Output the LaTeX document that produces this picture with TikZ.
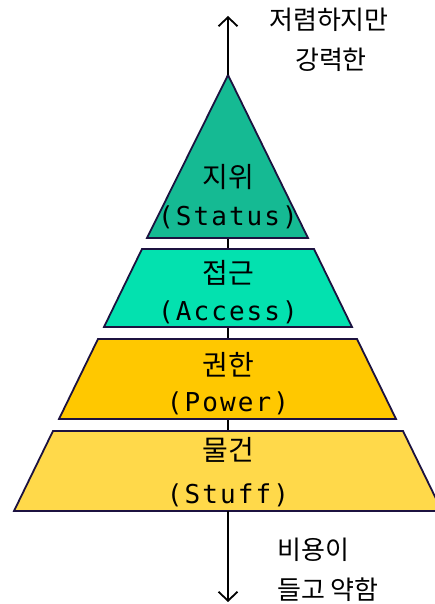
\documentclass[tikz,border=0pt]{standalone}
\usepackage{fontspec}
\setmainfont{Noto Sans CJK KR}
\newfontfamily\kr{Noto Sans CJK KR}
\newfontfamily\mono[LetterSpace=8]{DejaVu Sans Mono}
\usetikzlibrary{arrows.meta}
\definecolor{outl}{HTML}{1C1240}
\definecolor{cstatus}{HTML}{15BA93}
\definecolor{caccess}{HTML}{03E1AF}
\definecolor{cpower}{HTML}{FFC800}
\definecolor{cstuff}{HTML}{FFD94A}
\tikzset{
  layer/.style={draw=outl, line width=1.8pt, line join=miter},
  axis/.style={draw=black, line width=1.8pt},
  tipped/.style={axis, -{Straight Barb[length=9pt,width=19pt,line width=1.8pt]}},
  krlab/.style={font=\kr\fontsize{28}{32}\selectfont, inner sep=0pt, text=black},
  enlab/.style={font=\mono\fontsize{26}{30}\selectfont, inner sep=0pt, text=black},
  side/.style={font=\kr\fontsize{26}{30}\selectfont, inner sep=0pt, text=black}
}
\begin{document}
\begin{tikzpicture}[x=1pt,y=1pt]
\useasboundingbox (0,0) rectangle (435,604);
% axis coordinates
\coordinate (top) at (228,588);
\coordinate (apex) at (228,529);
\coordinate (low) at (228,93);
\coordinate (bot) at (228,2);
% axis behind shapes
\draw[axis] (apex) -- (low);
% shapes
\filldraw[layer, fill=cstatus] (apex) -- (308,366) -- (147,366) -- cycle;
\filldraw[layer, fill=caccess] (142,355) -- (314,355) -- (352,277) -- (104,277) -- cycle;
\filldraw[layer, fill=cpower] (98,265) -- (357,265) -- (396,185) -- (59,185) -- cycle;
\filldraw[layer, fill=cstuff] (53,173) -- (403,173) -- (442,93) -- (14,93) -- cycle;
% arrows
\draw[tipped] (apex) -- (top);
\draw[tipped] (low) -- (bot);
% labels
\node[krlab] (k1) at (228,427) {지위};
\node[enlab] (e1) at (228,387) {(Status)};
\node[krlab] (k2) at (228,331) {접근};
\node[enlab] (e2) at (228,292) {(Access)};
\node[krlab] (k3) at (228,239) {권한};
\node[enlab] (e3) at (228,201) {(Power)};
\node[krlab] (k4) at (228,154) {물건};
\node[enlab] (e4) at (228,109) {(Stuff)};
\node[side] (t1) at (329,584) {저렴하지만};
\node[side] (t2) at (331,544) {강력한};
\node[side, anchor=west] (b1) at (277,54) {비용이};
\node[side, anchor=west] (b2) at (277,14) {들고 약함};
\end{tikzpicture}
\end{document}
